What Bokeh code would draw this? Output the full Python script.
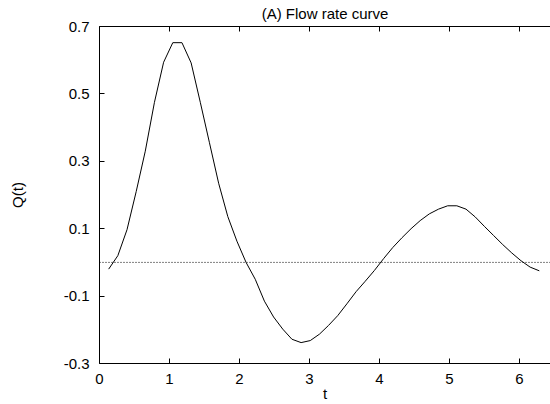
from bokeh.plotting import figure
from bokeh.models import LinearAxis, FixedTicker, Span, Range1d
from bokeh.embed import file_html
from bokeh.resources import INLINE

# Data
t = [0.131, 0.262, 0.393, 0.524, 0.654, 0.785, 0.916, 1.047, 1.178, 1.309,
     1.440, 1.571, 1.702, 1.833, 1.963, 2.094, 2.225, 2.356, 2.487, 2.618,
     2.749, 2.880, 3.011, 3.142, 3.272, 3.403, 3.534, 3.665, 3.796, 3.927,
     4.058, 4.189, 4.320, 4.451, 4.581, 4.712, 4.843, 4.974, 5.105, 5.236,
     5.367, 5.498, 5.629, 5.760, 5.890, 6.021, 6.152, 6.283]
q = [-0.020, 0.020, 0.097, 0.210, 0.330, 0.475, 0.594, 0.652, 0.652, 0.592,
     0.475, 0.355, 0.235, 0.136, 0.063, 0.000, -0.050, -0.115, -0.162, -0.198,
     -0.228, -0.238, -0.232, -0.213, -0.187, -0.158, -0.123, -0.087, -0.056, -0.024,
     0.011, 0.044, 0.073, 0.100, 0.124, 0.144, 0.158, 0.168, 0.168, 0.158,
     0.135, 0.107, 0.080, 0.053, 0.028, 0.005, -0.014, -0.025]

x_ticks = [0, 1, 2, 3, 4, 5, 6]
y_ticks = [-0.3, -0.1, 0.1, 0.3, 0.5, 0.7]
y_tick_labels = ["-0.3", "-0.1", "0.1", "0.3", "0.5", "0.7"]

FONT = "Liberation Sans"
FS = "15px"

p = figure(width=550, height=404, output_backend="svg", toolbar_location=None,
           x_range=Range1d(0, 6.443), y_range=Range1d(-0.3, 0.7),
           min_border_left=99, min_border_right=0, min_border_top=26,
           min_border_bottom=40, title="(A) Flow rate curve")
p.title.align = "center"
p.title.vertical_align = "top"
p.title.text_font = FONT
p.title.text_font_size = FS
p.title.text_font_style = "normal"
p.title.text_color = "black"
p.title.standoff = 6
p.title.offset = 0

p.outline_line_color = None
p.xgrid.visible = False
p.ygrid.visible = False
p.background_fill_color = "white"
p.border_fill_color = "white"

def style_axis(ax):
    ax.axis_line_color = "black"
    ax.axis_line_width = 1
    ax.major_tick_line_color = "black"
    ax.major_tick_in = 5
    ax.major_tick_out = 0
    ax.minor_tick_line_color = None
    ax.major_label_text_font = FONT
    ax.major_label_text_font_size = FS
    ax.major_label_text_color = "black"
    ax.axis_label_text_font = FONT
    ax.axis_label_text_font_size = FS
    ax.axis_label_text_font_style = "normal"
    ax.axis_label_text_color = "black"

xa = p.xaxis[0]
style_axis(xa)
xa.ticker = FixedTicker(ticks=x_ticks)
xa.axis_label = "t"
xa.major_label_standoff = 10
xa.axis_label_standoff = -2

ya = p.yaxis[0]
style_axis(ya)
ya.ticker = FixedTicker(ticks=y_ticks)
ya.major_label_overrides = {v: s for v, s in zip(y_ticks, y_tick_labels)}
ya.axis_label = "Q(t)"
ya.major_label_standoff = 10
ya.axis_label_standoff = 35

top = LinearAxis(ticker=FixedTicker(ticks=x_ticks))
style_axis(top)
top.major_label_text_color = None
top.major_label_text_font_size = "1px"
top.major_label_standoff = 0
p.add_layout(top, "above")

zero = Span(location=0, dimension="width", line_color="black",
            line_width=1, line_dash="1 2")
p.add_layout(zero)

p.line(t, q, line_color="black", line_width=1)

open("out.html", "w").write(file_html(p, INLINE))
